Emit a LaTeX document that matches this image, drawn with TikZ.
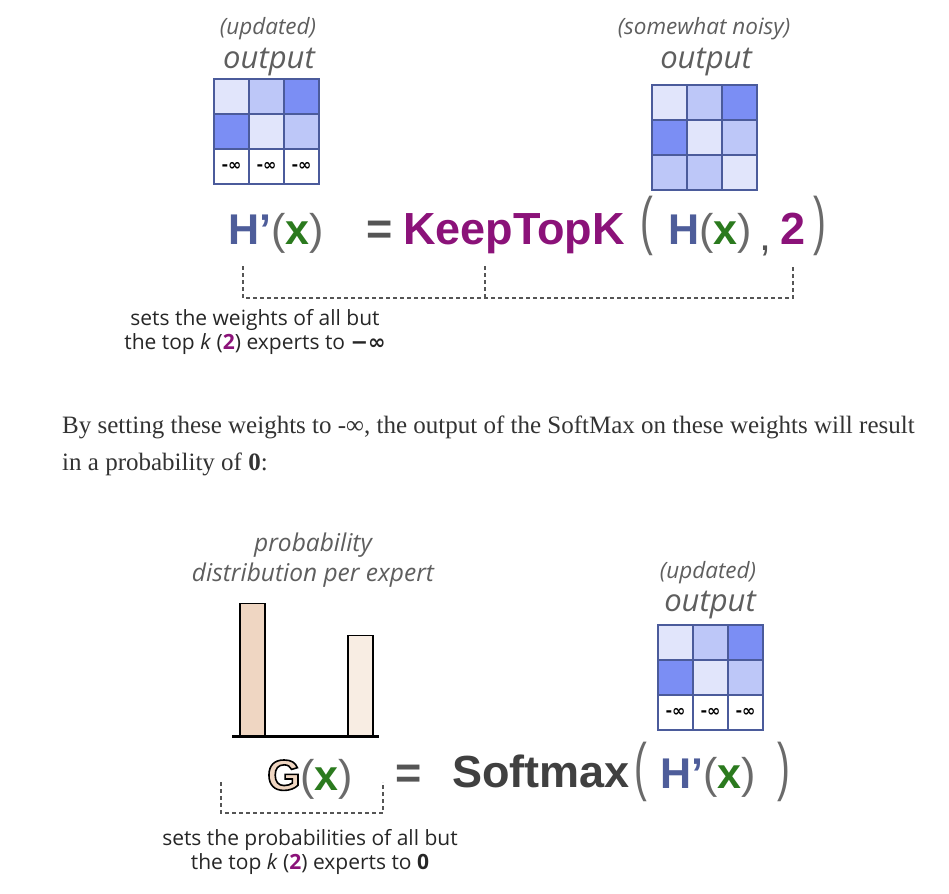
\documentclass[tikz,border=0pt]{standalone}
\usepackage{fontspec}
\setmainfont{Liberation Serif}
\setsansfont{Liberation Sans}
\newfontfamily\capfont{Open Sans}
\newfontfamily\symfont{DejaVu Sans}
\usetikzlibrary{positioning}

\definecolor{cellLight}{HTML}{E1E5FB}
\definecolor{cellMid}{HTML}{BDC7F8}
\definecolor{cellDark}{HTML}{7B8EF4}
\definecolor{gridBlue}{HTML}{4B5B9B}
\definecolor{hBlue}{HTML}{4E5D9A}
\definecolor{xGreen}{HTML}{2B7A1E}
\definecolor{kPurple}{HTML}{8B1279}
\definecolor{labelGray}{HTML}{5E5E5E}
\definecolor{parenGray}{HTML}{6A6A6A}
\definecolor{eqGray}{HTML}{555555}
\definecolor{softGray}{HTML}{404040}
\definecolor{paraGray}{HTML}{333333}
\definecolor{barDark}{HTML}{EFD6C2}
\definecolor{barLight}{HTML}{F8EDE3}

\newcommand{\hb}[1]{{\color{hBlue}\bfseries #1}}
\newcommand{\gx}{{\color{xGreen}\bfseries x}}
\newcommand{\pp}[1]{{\color{parenGray}\mdseries #1}}
% outlined G: fill and stroke text render mode
\newcommand{\ringG}{{\bfseries\color{barDark}\special{pdf:literal direct 0 0 0 RG 2 Tr 1.6 w}G\special{pdf:literal direct 0 Tr}}}

\tikzset{
    cell/.style={draw=gridBlue, line width=1.2pt, minimum size=35pt, inner sep=0pt, outer sep=0pt},
    ninf/.style={cell, fill=white, font=\symfont\bfseries\fontsize{16}{16}\selectfont},
    lbl/.style={font=\capfont\itshape\fontsize{22.5}{26}\selectfont, text=labelGray, inner sep=0pt},
    biglbl/.style={font=\capfont\itshape\fontsize{31}{34}\selectfont, text=labelGray, inner sep=0pt},
    problbl/.style={font=\capfont\itshape\fontsize{24.5}{28}\selectfont, text=labelGray, inner sep=0pt},
    eqtext/.style={font=\sffamily\fontsize{43}{50}\selectfont, inner sep=0pt, anchor=base west},
    eqbold/.style={font=\sffamily\bfseries\fontsize{45}{50}\selectfont, inner sep=0pt, anchor=base west},
    bigparen/.style={font=\sffamily\fontsize{64}{70}\selectfont, text=parenGray, inner sep=0pt},
    bracket/.style={draw=eqGray, line width=2pt, dash pattern=on 4pt off 3pt},
    caption/.style={font=\capfont\fontsize{21}{23.5}\selectfont, text=black!85, align=center, inner sep=0pt},
    bar/.style={draw=black, line width=1.5pt, minimum width=25pt, inner sep=0pt, anchor=south west}
}

\begin{document}
\begin{tikzpicture}[x=1pt, y=-1pt]
    \useasboundingbox (0,0) rectangle (949,893);

    % top left: updated output
    \node[lbl] (updA) at (268,29) {(updated)};
    \node[biglbl] (outA) at (269,62) {output};
    \foreach \cx/\cy/\cc in {0/0/cellLight, 1/0/cellMid, 2/0/cellDark, 0/1/cellDark, 1/1/cellLight, 2/1/cellMid}{
        \node[cell, fill=\cc] (gA-\cx\cy) at (231.5+35*\cx, 96.5+35*\cy) {};
    }
    \foreach \cx in {0,1,2}{
        \node[ninf] (gA-\cx2) at (231.5+35*\cx, 166.5) {-∞};
    }

    % top right: noisy output
    \node[lbl] (noisy) at (704,29) {(somewhat noisy)};
    \node[biglbl] (outB) at (706,62) {output};
    \foreach \cx/\cy/\cc in {0/0/cellLight, 1/0/cellMid, 2/0/cellDark, 0/1/cellDark, 1/1/cellLight, 2/1/cellMid, 0/2/cellMid, 1/2/cellMid, 2/2/cellLight}{
        \node[cell, fill=\cc] (gB-\cx\cy) at (669.5+35*\cx, 102.5+35*\cy) {};
    }

    % KeepTopK equation
    \node[eqtext] (hpTop) at (228,244) {\hb{H’}\pp{(}\gx\pp{)}};
    \node[eqbold, text=eqGray] (eqTop) at (366,244) {=};
    \node[eqbold, text=kPurple] (keep) at (403,244) {KeepTopK};
    \node[bigparen] (lpTop) at (647,226) {\scalebox{0.6}[1]{(}};
    \node[eqtext] (hTop) at (668,244) {\hb{H}\pp{(}\gx\pp{)}};
    \node[eqtext, text=eqGray] (comma) at (759,251) {,};
    \node[eqbold, text=kPurple] (two) at (780,244) {2};
    \node[bigparen] (rpTop) at (820,226) {\scalebox{0.6}[1]{)}};

    \coordinate (brL) at (243,266);
    \coordinate (brM) at (485,266);
    \coordinate (brR) at (793,266);
    \coordinate (brBase) at (0,298);
    \draw[bracket] (brL) -- (brL |- brBase) -- (brR |- brBase) -- (brR);
    \draw[bracket] (brM) -- (brM |- brBase);

    \node[caption] (capTop) at (255,332) {sets the weights of all but\\the top \textit{k} ({\color{kPurple}\bfseries 2}) experts to {\symfont\bfseries −∞}};

    % paragraph
    \node[anchor=base west, align=left, inner sep=0pt, text=paraGray, font=\fontsize{25}{37}\selectfont] (para) at (62,470)
        {By setting these weights to -∞, the output of the SoftMax on these weights will result\\in a probability of \textbf{0}:};

    % bar chart
    \node[problbl] (probA) at (313,545) {probability};
    \node[problbl] (probB) at (313,575) {distribution per expert};
    \node[bar, fill=barDark, minimum height=132pt] (barA) at (239,736) {};
    \node[bar, fill=barLight, minimum height=100pt] (barB) at (347,736) {};
    \coordinate (axL) at (232,736);
    \coordinate (axR) at (379,736);
    \draw[line width=3pt] (axL) -- (axR);

    % bottom right: updated output
    \node[lbl] (updB) at (708,573) {(updated)};
    \node[biglbl] (outC) at (710,605) {output};
    \foreach \cx/\cy/\cc in {0/0/cellLight, 1/0/cellMid, 2/0/cellDark, 0/1/cellDark, 1/1/cellLight, 2/1/cellMid}{
        \node[cell, fill=\cc] (gC-\cx\cy) at (675.5+35*\cx, 642.5+35*\cy) {};
    }
    \foreach \cx in {0,1,2}{
        \node[ninf] (gC-\cx2) at (675.5+35*\cx, 712.5) {-∞};
    }

    % Softmax equation
    \node[eqtext] (gxBot) at (267,790) {\ringG\pp{(}\gx\pp{)}};
    \node[eqbold, text=eqGray] (eqBot) at (395,788) {=};
    \node[eqbold, text=softGray] (soft) at (452,787) {Softmax};
    \node[bigparen] (lpBot) at (641,772) {\scalebox{0.6}[1]{(}};
    \node[eqtext] (hpBot) at (660,788) {\hb{H’}\pp{(}\gx\pp{)}};
    \node[bigparen] (rpBot) at (784,772) {\scalebox{0.6}[1]{)}};

    \coordinate (bkL) at (221,782);
    \coordinate (bkR) at (383,782);
    \coordinate (bkBase) at (0,813);
    \draw[bracket] (bkL) -- (bkL |- bkBase) -- (bkR |- bkBase) -- (bkR);

    \node[caption] (capBot) at (310,852) {sets the probabilities of all but\\the top \textit{k} ({\color{kPurple}\bfseries 2}) experts to \textbf{0}};
\end{tikzpicture}
\end{document}
